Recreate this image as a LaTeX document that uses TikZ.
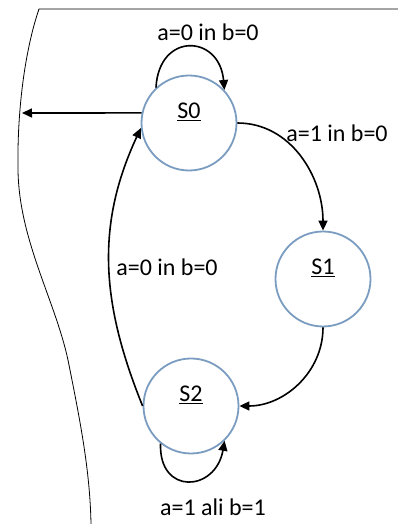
\documentclass[tikz,border=0pt]{standalone}
\usepackage{fontspec}
\setmainfont{Carlito}
\usetikzlibrary{arrows.meta}
\definecolor{stateblue}{HTML}{7A9CC0}

\begin{document}
\begin{tikzpicture}[x=1pt, y=1pt,
  state/.style={circle, draw=stateblue, line width=1.8pt, minimum size=95pt, inner sep=0pt},
  statename/.style={font=\fontsize{24}{28}\selectfont, yshift=11pt},
  cond/.style={font=\fontsize{24}{28}\selectfont, inner sep=0pt},
  arr/.style={line width=1.6pt, -{Triangle[length=10pt, width=9pt]}},
  border/.style={line width=0.8pt},
]
\useasboundingbox (0,0) rectangle (398,524);

% states
\node[state, label={[statename]center:\underline{S0}}] (S0) at (189,401) {};
\node[state, label={[statename]center:\underline{S1}}] (S1) at (323,245) {};
\node[state, label={[statename]center:\underline{S2}}] (S2) at (191,118) {};

% outer frame
\draw[border] (398,515) -- (39,515)
  .. controls (25,474) and (17,414) .. (18,354)
  .. controls (19,284) and (55,224) .. (68,164)
  .. controls (80,104) and (90,54) .. (91,0);
\coordinate (exit) at (22,411);

% transitions
\draw[arr] (S0.133) to[out=87, in=95, distance=56pt] (S0.43);
\draw[arr] (S0.168) -- (exit);
\draw[arr] (S0.east) to[out=0, in=90] (S1.north);
\draw[arr] (S1.south) to[out=-90, in=0] (S2.east);
\draw[arr] (S2.west) to[out=112, in=-115] (S0.186);
\draw[arr] (S2.231) to[out=-92, in=-100, distance=52pt] (S2.314);

% conditions
\node[cond] (c00) at (208,492) {a=0 in b=0};
\node[cond] (c10) at (337,391) {a=1 in b=0};
\node[cond] (c20) at (167,257) {a=0 in b=0};
\node[cond] (c11) at (213,17) {a=1 ali b=1};

\end{tikzpicture}
\end{document}
